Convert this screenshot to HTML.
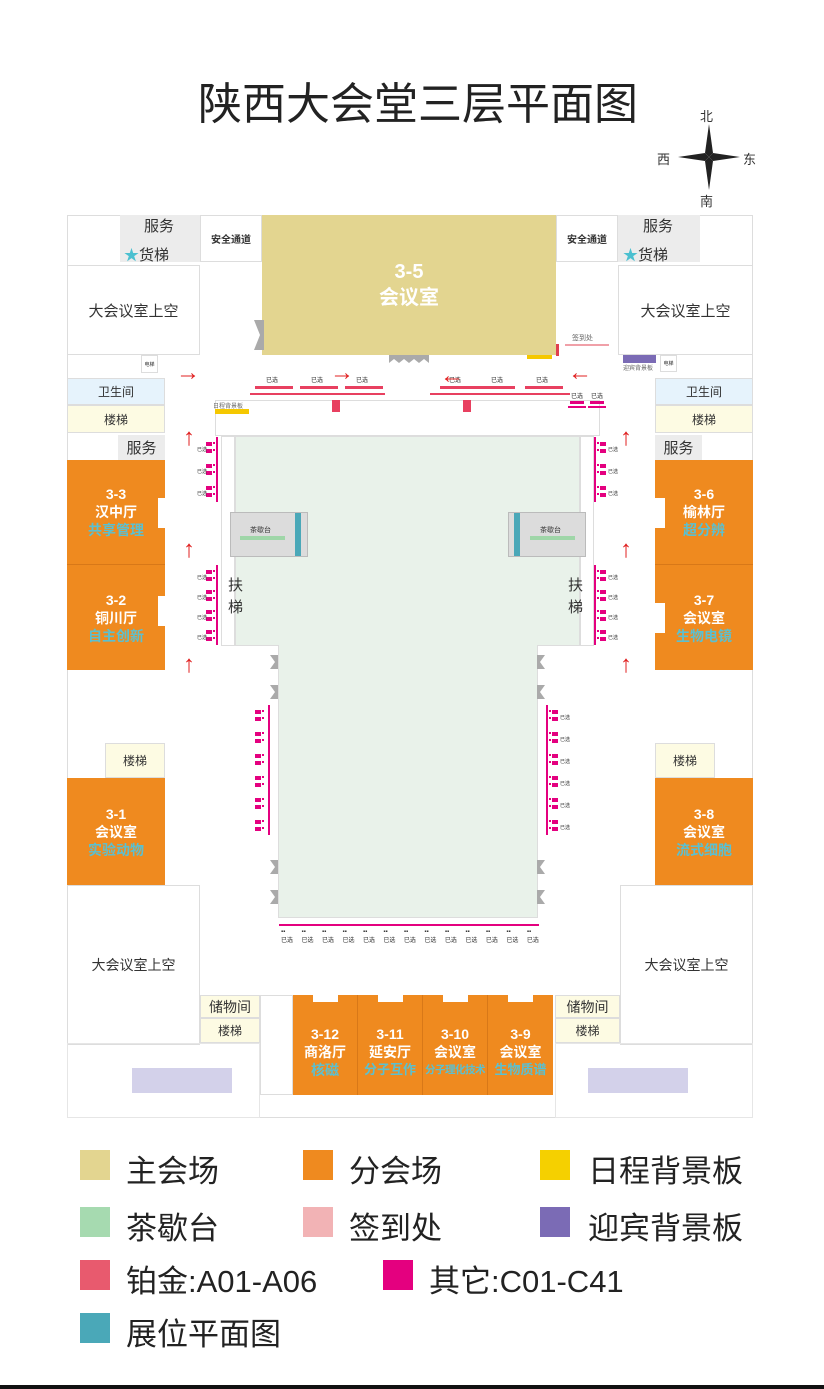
<!DOCTYPE html>
<html><head><meta charset="utf-8"><style>
*{margin:0;padding:0;box-sizing:border-box}
body{width:824px;height:1389px;background:#fff;position:relative;overflow:hidden;font-family:"Liberation Sans","Noto Sans CJK SC",sans-serif;color:#333}
.a{position:absolute}
.c{display:flex;align-items:center;justify-content:center;text-align:center}
.or{background:#ef8a1f;color:#fff;font-weight:bold;font-size:14px;line-height:18px;flex-direction:column}
.or .s{color:#5bc0d0;white-space:nowrap}
.gy{background:#ececec}
.bd{border:1px solid #ddd}
.ar{color:#e02020;font-size:24px;line-height:24px;font-weight:bold}
.lg{font-size:31px;color:#222}
.sq{width:30px;height:30px}
</style></head><body>
<div class="a" style="left:0;top:68px;width:836px;text-align:center;font-size:44px;color:#222">陕西大会堂三层平面图</div>
<svg class="a" style="left:676px;top:122px" width="66" height="70" viewBox="0 0 66 70">
<polygon points="33,2 37,31 33,35 29,31" fill="#222"/><polygon points="33,68 37,39 33,35 29,39" fill="#222"/>
<polygon points="2,35 29,31 33,35 29,39" fill="#222"/><polygon points="64,35 37,31 33,35 37,39" fill="#222"/></svg>
<div class="a" style="left:700px;top:106px;font-size:13px">北</div>
<div class="a" style="left:657px;top:149px;font-size:13px">西</div>
<div class="a" style="left:743px;top:149px;font-size:13px">东</div>
<div class="a" style="left:700px;top:191px;font-size:13px">南</div>

<div class="a bd" style="left:67px;top:215px;width:686px;height:903px"></div>

<div class="a gy" style="left:120px;top:215px;width:80px;height:47px"></div>
<div class="a" style="left:144px;top:215px;font-size:15px">服务</div>
<div class="a" style="left:124px;top:244px;font-size:15px"><span style="color:#4bc0d0">★</span>货梯</div>
<div class="a c bd" style="left:200px;top:215px;width:62px;height:47px;font-size:10px;font-weight:bold">安全通道</div>
<div class="a c bd" style="left:67px;top:265px;width:133px;height:90px;font-size:15px">大会议室上空</div>
<div class="a c bd" style="left:141px;top:355px;width:17px;height:18px;font-size:5px">电梯</div>
<div class="a c" style="left:262px;top:215px;width:294px;height:140px;background:#e3d590;color:#fff;font-weight:bold;font-size:20px;line-height:26px;flex-direction:column"><div>3-5</div><div>会议室</div></div>
<svg class="a" style="left:254px;top:320px" width="10" height="30"><polygon points="0,0 10,0 10,30 0,30 6,15" fill="#aaa"/></svg>
<svg class="a" style="left:389px;top:355px" width="40" height="8"><path d="M0,0h40v8l-5,-4l-5,4l-5,-4l-5,4l-5,-4l-5,4l-5,-4l-5,4z" fill="#aaa"/></svg>
<div class="a c bd" style="left:556px;top:215px;width:62px;height:47px;font-size:10px;font-weight:bold">安全通道</div>
<div class="a gy" style="left:618px;top:215px;width:82px;height:47px"></div>
<div class="a" style="left:643px;top:215px;font-size:15px">服务</div>
<div class="a" style="left:623px;top:244px;font-size:15px"><span style="color:#4bc0d0">★</span>货梯</div>
<div class="a c bd" style="left:618px;top:265px;width:135px;height:90px;font-size:15px">大会议室上空</div>
<div class="a" style="left:623px;top:355px;width:33px;height:8px;background:#7b6bb5"></div>
<div class="a" style="left:623px;top:363px;font-size:6px;color:#666">迎宾背景板</div>
<div class="a c bd" style="left:660px;top:355px;width:17px;height:17px;font-size:5px">电梯</div>
<div class="a" style="left:572px;top:333px;font-size:7px;color:#666">签到处</div>
<div class="a" style="left:565px;top:344px;width:44px;height:2px;background:#f0a0a8"></div>
<div class="a" style="left:556px;top:344px;width:3px;height:12px;background:#e04050"></div>
<div class="a" style="left:527px;top:355px;width:25px;height:4px;background:#f5c800"></div>

<div class="a c bd" style="left:67px;top:378px;width:98px;height:27px;background:#e6f3fc;font-size:12px">卫生间</div>
<div class="a c bd" style="left:67px;top:405px;width:98px;height:28px;background:#fdfbe3;font-size:12px">楼梯</div>
<div class="a c gy" style="left:118px;top:435px;width:47px;height:25px;font-size:15px">服务</div>
<div class="a c or" style="left:67px;top:460px;width:98px;height:105px;border-bottom:1px solid #d87818"><div>3-3</div><div>汉中厅</div><div class="s">共享管理</div></div>
<div class="a c or" style="left:67px;top:565px;width:98px;height:105px"><div>3-2</div><div>铜川厅</div><div class="s">自主创新</div></div>
<div class="a" style="left:158px;top:498px;width:7px;height:30px;background:#fff"></div>
<div class="a" style="left:158px;top:596px;width:7px;height:30px;background:#fff"></div>
<div class="a c bd" style="left:105px;top:743px;width:60px;height:35px;background:#fdfbe3;font-size:12px">楼梯</div>
<div class="a c or" style="left:67px;top:778px;width:98px;height:107px"><div>3-1</div><div>会议室</div><div class="s">实验动物</div></div>
<div class="a c bd" style="left:67px;top:885px;width:133px;height:160px;font-size:14px">大会议室上空</div>
<div class="a c bd" style="left:200px;top:995px;width:60px;height:23px;background:#fdfbe3;font-size:14px">储物间</div>
<div class="a c bd" style="left:200px;top:1018px;width:60px;height:25px;background:#fdfbe3;font-size:12px">楼梯</div>
<div class="a" style="left:132px;top:1068px;width:100px;height:25px;background:#d3d1ea"></div>

<div class="a c bd" style="left:655px;top:378px;width:98px;height:27px;background:#e6f3fc;font-size:12px">卫生间</div>
<div class="a c bd" style="left:655px;top:405px;width:98px;height:28px;background:#fdfbe3;font-size:12px">楼梯</div>
<div class="a c gy" style="left:655px;top:435px;width:47px;height:25px;font-size:15px">服务</div>
<div class="a c or" style="left:655px;top:460px;width:98px;height:105px;border-bottom:1px solid #d87818"><div>3-6</div><div>榆林厅</div><div class="s">超分辨</div></div>
<div class="a c or" style="left:655px;top:565px;width:98px;height:105px"><div>3-7</div><div>会议室</div><div class="s">生物电镜</div></div>
<div class="a" style="left:655px;top:498px;width:10px;height:30px;background:#fff"></div>
<div class="a" style="left:655px;top:603px;width:10px;height:30px;background:#fff"></div>
<div class="a c bd" style="left:655px;top:743px;width:60px;height:35px;background:#fdfbe3;font-size:12px">楼梯</div>
<div class="a c or" style="left:655px;top:778px;width:98px;height:107px"><div>3-8</div><div>会议室</div><div class="s">流式细胞</div></div>
<div class="a c bd" style="left:620px;top:885px;width:133px;height:160px;font-size:14px">大会议室上空</div>
<div class="a c bd" style="left:555px;top:995px;width:65px;height:23px;background:#fdfbe3;font-size:14px">储物间</div>
<div class="a c bd" style="left:555px;top:1018px;width:65px;height:25px;background:#fdfbe3;font-size:12px">楼梯</div>
<div class="a" style="left:588px;top:1068px;width:100px;height:25px;background:#d3d1ea"></div>
<div class="a bd" style="left:67px;top:1043px;width:193px;height:75px;border-color:#e6e6e6"></div>
<div class="a bd" style="left:555px;top:1043px;width:198px;height:75px;border-color:#e6e6e6"></div>

<div class="a bd" style="left:215px;top:400px;width:385px;height:36px"></div>
<div class="a" style="left:215px;top:409px;width:34px;height:5px;background:#f5c800"></div>
<div class="a" style="left:213px;top:401px;font-size:6px;color:#666">日程背景板</div>
<div class="a" style="left:235px;top:436px;width:345px;height:210px;background:#e9f2ea;border:1px solid #ddd"></div>
<div class="a" style="left:278px;top:645px;width:260px;height:273px;background:#e9f2ea;border:1px solid #ddd;border-top:none"></div>
<div class="a" style="left:221px;top:436px;width:14px;height:210px;border:1px solid #ddd"></div>
<div class="a" style="left:580px;top:436px;width:14px;height:210px;border:1px solid #ddd"></div>
<div class="a" style="left:230px;top:512px;width:78px;height:45px;background:#dcdcdc;border:1px solid #bbb"></div>
<div class="a" style="left:295px;top:513px;width:6px;height:43px;background:#4aa8b8"></div>
<div class="a" style="left:240px;top:536px;width:45px;height:4px;background:#9fd6a8"></div>
<div class="a" style="left:250px;top:525px;font-size:7px">茶歇台</div>
<div class="a" style="left:508px;top:512px;width:78px;height:45px;background:#dcdcdc;border:1px solid #bbb"></div>
<div class="a" style="left:514px;top:513px;width:6px;height:43px;background:#4aa8b8"></div>
<div class="a" style="left:530px;top:536px;width:45px;height:4px;background:#9fd6a8"></div>
<div class="a" style="left:540px;top:525px;font-size:7px">茶歇台</div>
<div class="a" style="left:228px;top:575px;font-size:15px;line-height:22px;width:16px">扶梯</div>
<div class="a" style="left:568px;top:575px;font-size:15px;line-height:22px;width:16px">扶梯</div>

<svg class="a" style="left:270px;top:655px" width="10" height="260"><g fill="#aaa"><path d="M0,0h8v14h-8l5,-7z"/><path d="M0,30h8v14h-8l5,-7z"/><path d="M0,205h8v14h-8l5,-7z"/><path d="M0,235h8v14h-8l5,-7z"/></g></svg>
<svg class="a" style="left:537px;top:655px" width="10" height="260"><g fill="#aaa"><path d="M0,0h8l-5,7l5,7h-8z"/><path d="M0,30h8l-5,7l5,7h-8z"/><path d="M0,205h8l-5,7l5,7h-8z"/><path d="M0,235h8l-5,7l5,7h-8z"/></g></svg>

<svg class="a" style="left:250px;top:372px" width="370" height="40">
<g fill="#e84060"><rect x="5" y="14" width="38" height="3"/><rect x="50" y="14" width="38" height="3"/><rect x="95" y="14" width="38" height="3"/><rect x="190" y="14" width="38" height="3"/><rect x="227" y="14" width="38" height="3"/><rect x="275" y="14" width="38" height="3"/>
<rect x="0" y="21" width="45" height="2"/><rect x="45" y="21" width="45" height="2"/><rect x="90" y="21" width="45" height="2"/><rect x="180" y="21" width="45" height="2"/><rect x="225" y="21" width="45" height="2"/><rect x="270" y="21" width="50" height="2"/>
<rect x="82" y="28" width="8" height="18"/><rect x="213" y="28" width="8" height="18"/></g>
<g fill="#e4007f"><rect x="318" y="34" width="18" height="2"/><rect x="338" y="34" width="18" height="2"/><rect x="320" y="29" width="14" height="3"/><rect x="340" y="29" width="14" height="3"/></g>
<g font-size="6" fill="#333" text-anchor="middle"><text x="22" y="10">已选</text><text x="67" y="10">已选</text><text x="112" y="10">已选</text><text x="205" y="10">已选</text><text x="247" y="10">已选</text><text x="292" y="10">已选</text><text x="327" y="26">已选</text><text x="347" y="26">已选</text></g></svg>

<svg class="a" style="left:196px;top:437px" width="30" height="210"><g fill="#e4007f">
<rect x="20" y="0" width="2" height="65"/><rect x="20" y="128" width="2" height="80"/>
<g id="L"><rect x="10" y="5" width="6" height="4"/><rect x="10" y="12" width="6" height="4"/><rect x="17" y="5" width="2" height="2"/><rect x="17" y="12" width="2" height="2"/></g>
<use href="#L" y="22"/><use href="#L" y="44"/><use href="#L" y="128"/><use href="#L" y="148"/><use href="#L" y="168"/><use href="#L" y="188"/></g>
<g font-size="5" fill="#333"><text x="1" y="14">已选</text><text x="1" y="36">已选</text><text x="1" y="58">已选</text><text x="1" y="142">已选</text><text x="1" y="162">已选</text><text x="1" y="182">已选</text><text x="1" y="202">已选</text></g></svg>
<svg class="a" style="left:592px;top:437px" width="30" height="210"><g fill="#e4007f">
<rect x="2" y="0" width="2" height="65"/><rect x="2" y="128" width="2" height="80"/>
<g id="R"><rect x="8" y="5" width="6" height="4"/><rect x="8" y="12" width="6" height="4"/><rect x="5" y="5" width="2" height="2"/><rect x="5" y="12" width="2" height="2"/></g>
<use href="#R" y="22"/><use href="#R" y="44"/><use href="#R" y="128"/><use href="#R" y="148"/><use href="#R" y="168"/><use href="#R" y="188"/></g>
<g font-size="5" fill="#333"><text x="16" y="14">已选</text><text x="16" y="36">已选</text><text x="16" y="58">已选</text><text x="16" y="142">已选</text><text x="16" y="162">已选</text><text x="16" y="182">已选</text><text x="16" y="202">已选</text></g></svg>
<svg class="a" style="left:248px;top:705px" width="24" height="135"><g fill="#e4007f">
<rect x="20" y="0" width="2" height="130"/>
<use href="#L" x="-3" y="0"/><use href="#L" x="-3" y="22"/><use href="#L" x="-3" y="44"/><use href="#L" x="-3" y="66"/><use href="#L" x="-3" y="88"/><use href="#L" x="-3" y="110"/></g></svg>
<svg class="a" style="left:544px;top:705px" width="26" height="135"><g fill="#e4007f">
<rect x="2" y="0" width="2" height="130"/>
<use href="#R" y="0"/><use href="#R" y="22"/><use href="#R" y="44"/><use href="#R" y="66"/><use href="#R" y="88"/><use href="#R" y="110"/></g>
<g font-size="5" fill="#333"><text x="16" y="14">已选</text><text x="16" y="36">已选</text><text x="16" y="58">已选</text><text x="16" y="80">已选</text><text x="16" y="102">已选</text><text x="16" y="124">已选</text></g></svg>
<div class="a" style="left:279px;top:924px;width:260px;height:2px;background:#e4007f"></div>
<div class="a" style="left:281px;top:929px;width:258px;display:flex;justify-content:space-between;font-size:6px;color:#333">
<span>▪▪<br>已选</span><span>▪▪<br>已选</span><span>▪▪<br>已选</span><span>▪▪<br>已选</span><span>▪▪<br>已选</span><span>▪▪<br>已选</span><span>▪▪<br>已选</span><span>▪▪<br>已选</span><span>▪▪<br>已选</span><span>▪▪<br>已选</span><span>▪▪<br>已选</span><span>▪▪<br>已选</span><span>▪▪<br>已选</span></div>

<div class="a bd" style="left:260px;top:995px;width:33px;height:100px"></div>
<div class="a c or" style="left:293px;top:995px;width:65px;height:100px;border-right:1px solid #d87818;padding-top:14px"><div>3-12</div><div>商洛厅</div><div class="s">核磁</div></div>
<div class="a c or" style="left:358px;top:995px;width:65px;height:100px;border-right:1px solid #d87818;padding-top:14px"><div>3-11</div><div>延安厅</div><div class="s" style="font-size:13px">分子互作</div></div>
<div class="a c or" style="left:423px;top:995px;width:65px;height:100px;border-right:1px solid #d87818;padding-top:14px"><div>3-10</div><div>会议室</div><div class="s" style="font-size:10.5px;letter-spacing:-0.5px">分子理化技术</div></div>
<div class="a c or" style="left:488px;top:995px;width:65px;height:100px;padding-top:14px"><div>3-9</div><div>会议室</div><div class="s" style="font-size:13px">生物质谱</div></div>
<div class="a" style="left:313px;top:995px;width:25px;height:7px;background:#fff"></div>
<div class="a" style="left:378px;top:995px;width:25px;height:7px;background:#fff"></div>
<div class="a" style="left:443px;top:995px;width:25px;height:7px;background:#fff"></div>
<div class="a" style="left:508px;top:995px;width:25px;height:7px;background:#fff"></div>

<div class="a ar" style="left:176px;top:361px">→</div>
<div class="a ar" style="left:330px;top:361px">→</div>
<div class="a ar" style="left:440px;top:364px">←</div>
<div class="a ar" style="left:568px;top:361px">←</div>
<div class="a ar" style="left:183px;top:426px">↑</div>
<div class="a ar" style="left:183px;top:538px">↑</div>
<div class="a ar" style="left:183px;top:653px">↑</div>
<div class="a ar" style="left:620px;top:426px">↑</div>
<div class="a ar" style="left:620px;top:538px">↑</div>
<div class="a ar" style="left:620px;top:653px">↑</div>

<div class="a sq" style="left:80px;top:1150px;background:#e3d590"></div><div class="a lg" style="left:126px;top:1146px">主会场</div>
<div class="a sq" style="left:303px;top:1150px;background:#ef8a1f"></div><div class="a lg" style="left:349px;top:1146px">分会场</div>
<div class="a sq" style="left:540px;top:1150px;background:#f5d000"></div><div class="a lg" style="left:588px;top:1146px">日程背景板</div>
<div class="a sq" style="left:80px;top:1207px;background:#a6dab0"></div><div class="a lg" style="left:126px;top:1203px">茶歇台</div>
<div class="a sq" style="left:303px;top:1207px;background:#f2b3b5"></div><div class="a lg" style="left:349px;top:1203px">签到处</div>
<div class="a sq" style="left:540px;top:1207px;background:#7b6bb5"></div><div class="a lg" style="left:588px;top:1203px">迎宾背景板</div>
<div class="a sq" style="left:80px;top:1260px;background:#e85a6e"></div><div class="a lg" style="left:126px;top:1256px">铂金:A01-A06</div>
<div class="a sq" style="left:383px;top:1260px;background:#e4007f"></div><div class="a lg" style="left:429px;top:1256px">其它:C01-C41</div>
<div class="a sq" style="left:80px;top:1313px;background:#4aa8b8"></div><div class="a lg" style="left:126px;top:1309px">展位平面图</div>
<div class="a" style="left:0;top:1385px;width:824px;height:4px;background:#111"></div>
</body></html>
